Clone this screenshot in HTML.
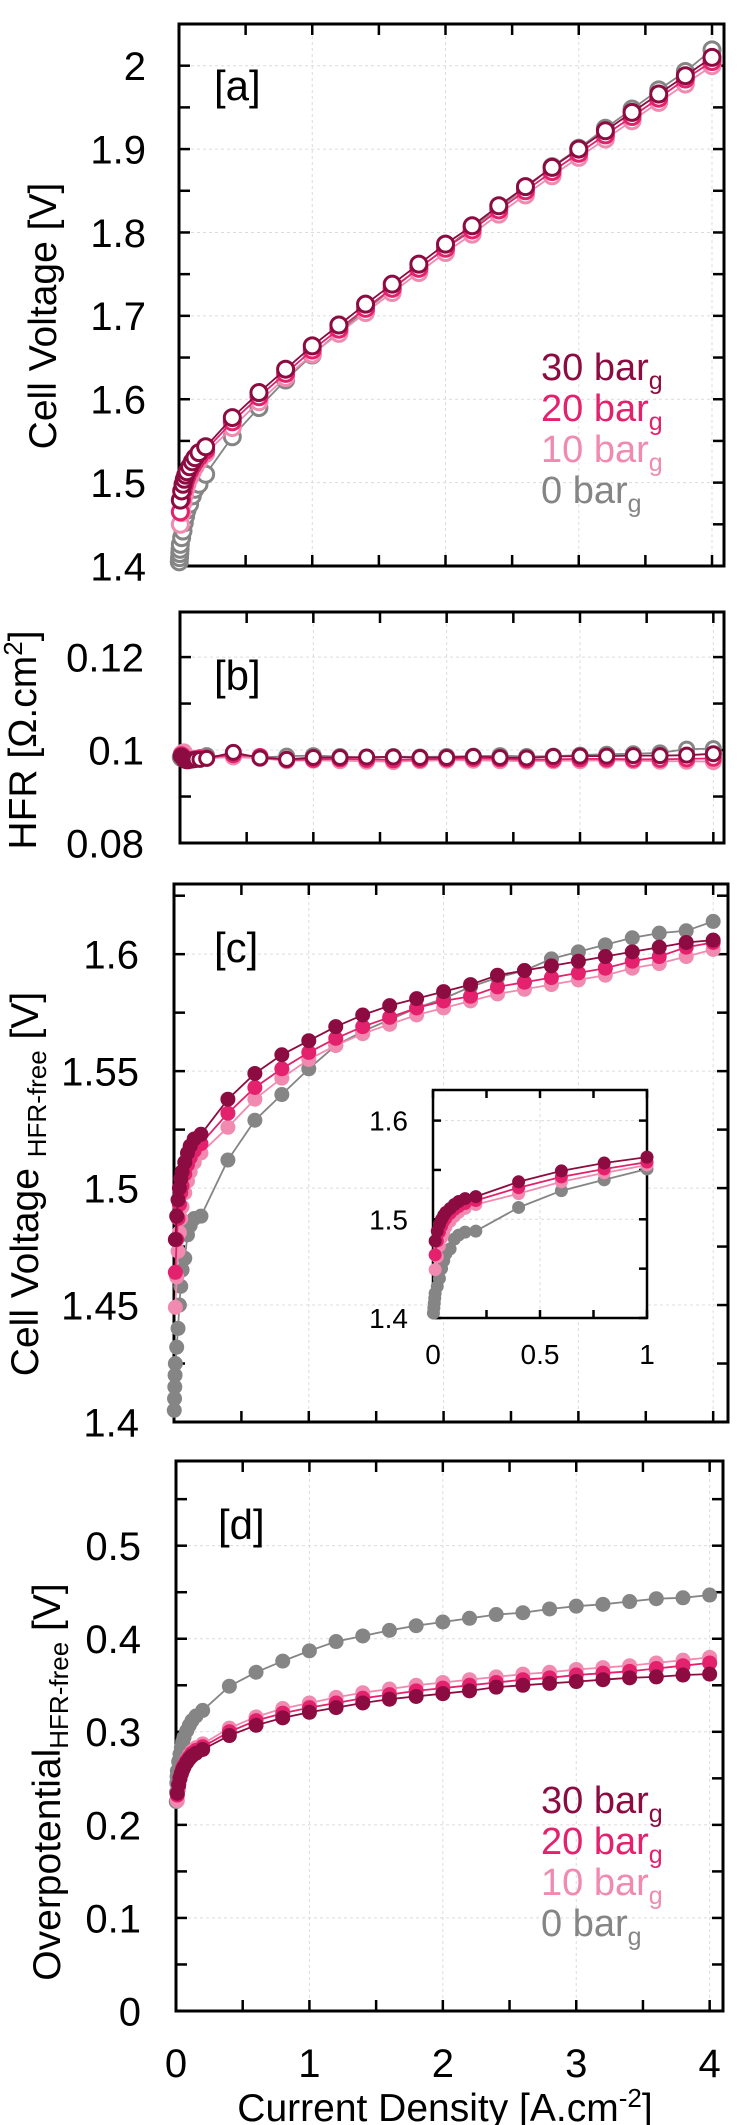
<!DOCTYPE html>
<html><head><meta charset="utf-8">
<style>
html,body{margin:0;padding:0;background:#fff;}
svg{display:block;font-family:"Liberation Sans",Arial,sans-serif;}
</style></head>
<body>
<svg id="fig" width="752" height="2125" viewBox="0 0 752 2125" xmlns="http://www.w3.org/2000/svg">
</svg>
<script>
// ---- data ----
const xs = [0.01,0.02,0.03,0.04,0.05,0.06,0.08,0.1,0.12,0.15,0.2,0.4,0.6,0.8,1.0,1.2,1.4,1.6,1.8,2.0,2.2,2.4,2.6,2.8,3.0,3.2,3.4,3.6,3.8,4.0];
const xs0 = [0.002,0.004,0.006,0.008,0.01,0.02,0.03,0.04,0.05,0.06,0.08,0.1,0.12,0.15,0.2,0.4,0.6,0.8,1.0,1.2,1.4,1.6,1.8,2.0,2.2,2.4,2.6,2.8,3.0,3.2,3.4,3.6,3.8,4.0];
const seriesNames = ["0 bar","10 bar","20 bar","30 bar"];

// [a] cell voltage
const cv30 = [1.479,1.490,1.498,1.504,1.509,1.513,1.519,1.525,1.530,1.536,1.543,1.578,1.608,1.636,1.664,1.689,1.714,1.738,1.762,1.786,1.808,1.832,1.855,1.878,1.900,1.922,1.944,1.966,1.988,2.010];
const cv20 = [1.465,1.480,1.490,1.497,1.503,1.507,1.514,1.520,1.525,1.531,1.539,1.573,1.603,1.631,1.659,1.684,1.709,1.733,1.757,1.781,1.803,1.827,1.850,1.873,1.895,1.917,1.939,1.961,1.984,2.005];
const cv10 = [1.450,1.464,1.476,1.485,1.492,1.498,1.506,1.513,1.519,1.526,1.535,1.566,1.597,1.626,1.654,1.679,1.704,1.728,1.752,1.776,1.798,1.822,1.845,1.868,1.890,1.912,1.934,1.956,1.978,2.000];
const cv0 = [1.405,1.410,1.415,1.420,1.426,1.434,1.442,1.452,1.460,1.467,1.474,1.484,1.492,1.498,1.510,1.555,1.590,1.623,1.653,1.681,1.707,1.732,1.757,1.781,1.806,1.830,1.853,1.879,1.901,1.925,1.948,1.971,1.993,2.019];

// [b] HFR
const hfr30 = [0.0987,0.0985,0.0980,0.0978,0.0977,0.0977,0.0978,0.0979,0.0980,0.0980,0.0982,0.0995,0.0983,0.0980,0.0984,0.0984,0.0985,0.0985,0.0984,0.0984,0.0986,0.0984,0.0983,0.0986,0.0987,0.0987,0.0988,0.0988,0.0989,0.0992];
const hfr20 = [0.0990,0.0988,0.0984,0.0980,0.0978,0.0978,0.0979,0.0980,0.0981,0.0982,0.0983,0.0990,0.0986,0.0979,0.0980,0.0981,0.0980,0.0979,0.0980,0.0981,0.0982,0.0981,0.0979,0.0980,0.0981,0.0981,0.0980,0.0980,0.0981,0.0982];
const hfr10 = [0.0992,0.0995,0.0996,0.0990,0.0986,0.0984,0.0983,0.0982,0.0981,0.0981,0.0982,0.0985,0.0982,0.0977,0.0978,0.0977,0.0976,0.0975,0.0977,0.0978,0.0978,0.0977,0.0976,0.0977,0.0977,0.0978,0.0977,0.0976,0.0976,0.0975];
const hfr0 = [0.0985,0.0984,0.0983,0.0982,0.0982,0.0981,0.0981,0.0980,0.0980,0.0980,0.0980,0.0981,0.0982,0.0984,0.0988,0.0986,0.0984,0.0987,0.0988,0.0986,0.0983,0.0986,0.0985,0.0986,0.0987,0.0988,0.0986,0.0987,0.0989,0.0991,0.0992,0.0994,0.1002,0.1003];

// [c] HFR-free cell voltage
const cf30 = [1.478,1.488,1.495,1.500,1.504,1.507,1.511,1.515,1.518,1.521,1.523,1.538,1.549,1.557,1.563,1.569,1.574,1.578,1.581,1.584,1.587,1.591,1.593,1.595,1.597,1.599,1.601,1.603,1.605,1.606];
const cf20 = [1.464,1.478,1.487,1.493,1.498,1.501,1.506,1.510,1.513,1.516,1.519,1.532,1.543,1.551,1.558,1.564,1.569,1.573,1.577,1.580,1.582,1.586,1.588,1.590,1.592,1.594,1.597,1.599,1.603,1.605];
const cf10 = [1.449,1.462,1.473,1.481,1.487,1.492,1.498,1.503,1.507,1.511,1.515,1.526,1.538,1.547,1.555,1.561,1.566,1.570,1.574,1.577,1.580,1.583,1.585,1.587,1.589,1.591,1.594,1.596,1.599,1.602];
const cf0 = [1.405,1.410,1.415,1.420,1.425,1.432,1.440,1.450,1.458,1.465,1.470,1.480,1.484,1.487,1.488,1.512,1.529,1.540,1.551,1.561,1.567,1.572,1.577,1.581,1.586,1.590,1.593,1.598,1.601,1.604,1.607,1.609,1.610,1.614];

// [d] overpotential
const op30 = [0.234,0.243,0.250,0.255,0.259,0.262,0.267,0.271,0.274,0.277,0.281,0.296,0.307,0.315,0.321,0.326,0.331,0.335,0.338,0.341,0.344,0.348,0.350,0.352,0.354,0.356,0.358,0.359,0.361,0.362];
const op20 = [0.232,0.243,0.251,0.256,0.261,0.264,0.269,0.273,0.277,0.280,0.284,0.300,0.312,0.320,0.326,0.331,0.336,0.340,0.344,0.347,0.350,0.353,0.356,0.358,0.361,0.363,0.365,0.368,0.371,0.374];
const op10 = [0.226,0.239,0.249,0.255,0.260,0.264,0.270,0.275,0.279,0.283,0.287,0.304,0.316,0.325,0.331,0.337,0.342,0.346,0.350,0.353,0.356,0.359,0.362,0.364,0.367,0.369,0.371,0.374,0.377,0.380];
const op0 = [0.225,0.235,0.245,0.252,0.258,0.268,0.276,0.283,0.289,0.294,0.301,0.307,0.312,0.317,0.323,0.349,0.364,0.376,0.387,0.397,0.403,0.409,0.414,0.418,0.422,0.426,0.428,0.432,0.435,0.437,0.440,0.443,0.444,0.447];

const xTickLabels = ["0","1","2","3","4"];
const yTicksA = ["1.4","1.5","1.6","1.7","1.8","1.9","2"];
const yTicksB = ["0.08","0.1","0.12"];
const yTicksC = ["1.4","1.45","1.5","1.55","1.6"];
const yTicksD = ["0","0.1","0.2","0.3","0.4","0.5"];
const inTicksY = ["1.4","1.5","1.6"];
const inTicksX = ["0","0.5","1"];

const COL = {"0 bar":"#858585","10 bar":"#F18AB0","20 bar":"#E3216D","30 bar":"#8C0C41"};

// ---- helpers ----
const NS = "http://www.w3.org/2000/svg";
const svg = document.getElementById("fig");
function mk(tag, attrs, parent){
  const e = document.createElementNS(NS, tag);
  for (const k in attrs) e.setAttribute(k, attrs[k]);
  (parent||svg).appendChild(e);
  return e;
}
function axis(p){
  p.sx = v => p.left + (v - p.xmin)/(p.xmax - p.xmin)*(p.right - p.left);
  p.sy = v => p.bottom - (v - p.ymin)/(p.ymax - p.ymin)*(p.bottom - p.top);
  return p;
}

function drawFrame(p, g){
  p.xGrid.forEach(v=>{
    const l = mk("line",{x1:p.sx(v),x2:p.sx(v),y1:p.top,y2:p.bottom,stroke:"#dcdcdc","stroke-width":1,"stroke-dasharray":"3,3"},g);
    
    
  });
  p.yMajor.forEach(v=>{
    const l = mk("line",{x1:p.left,x2:p.right,y1:p.sy(v),y2:p.sy(v),stroke:"#dcdcdc","stroke-width":1,"stroke-dasharray":"3,3"},g);
    
    
  });
  const tl = p.tickLen||11;
  p.xTicks.forEach(v=>{
    const x = p.sx(v);
    mk("line",{x1:x,x2:x,y1:p.bottom,y2:p.bottom-tl,stroke:"#000","stroke-width":2.5},g);
    mk("line",{x1:x,x2:x,y1:p.top,y2:p.top+tl,stroke:"#000","stroke-width":2.5},g);
  });
  p.yAll.forEach(v=>{
    const y = p.sy(v);
    mk("line",{x1:p.left,x2:p.left+tl,y1:y,y2:y,stroke:"#000","stroke-width":2.5},g);
    mk("line",{x1:p.right,x2:p.right-tl,y1:y,y2:y,stroke:"#000","stroke-width":2.5},g);
  });
  const r = mk("rect",{x:p.left,y:p.top,width:p.right-p.left,height:p.bottom-p.top,fill:"none",stroke:"#000","stroke-width":p.frameW||3},g);
  
  
  p.yLabels.forEach(s=>{
    const t = mk("text",{x:p.labelX,y:p.sy(parseFloat(s))+p.fs*0.36,"text-anchor":"end","font-size":p.fs,fill:"#000"},g);
    t.textContent = s;
    
    
  });
}

function drawSeries(p, g, xv, yv, name, open, r){
  const c = COL[name];
  const sg = mk("g",{},g);
  
  
  let d = "";
  xv.forEach((x,i)=>{
    if (x > p.xmax) return;
    d += (d?"L":"M") + p.sx(x).toFixed(1) + "," + p.sy(yv[i]).toFixed(1);
  });
  const path = mk("path",{d:d,fill:"none",stroke:c,"stroke-width":1.8},sg);
  
  
  xv.forEach((x,i)=>{
    if (x > p.xmax) return;
    const m = mk("circle",{cx:p.sx(x),cy:p.sy(yv[i]),r:r,fill:open?"#fff":c,stroke:c,"stroke-width":open?3:0},sg);
    
    
  });
}

function range(a,b,s){const o=[];for(let v=a;v<=b+1e-9;v+=s)o.push(Math.round(v*10000)/10000);return o;}

function panelLabel(txt,x,y,g){
  const t = mk("text",{x:x,y:y,"font-size":42,fill:"#000"},g);
  t.textContent = txt;
  
  
}

function legend(x,y0,g){
  const lg = mk("g",{},g);
  
  
  const ord = ["30 bar","20 bar","10 bar","0 bar"];
  ord.forEach((n,i)=>{
    const t = mk("text",{x:x,y:y0+i*41,"font-size":38,fill:COL[n]},lg);
    
    
    t.appendChild(document.createTextNode(n));
    const s = mk("tspan",{dy:9,"font-size":25},t);
    s.textContent = "g";
  });
}

const FS = 40;

// ---- panel A ----
const A = axis({left:179,right:724,top:24,bottom:566,xmin:0,xmax:4.09,ymin:1.4,ymax:2.05,fs:FS,labelX:146});
A.xTicks = range(0,4,0.5); A.xGrid = range(1,4,1); A.yMajor = range(1.4,2.0,0.1); A.yAll = range(1.4,2.05,0.05); A.yLabels = yTicksA;
const gA = mk("g",{});  
drawFrame(A,gA);
drawSeries(A,gA,xs0,cv0,"0 bar",true,8);
drawSeries(A,gA,xs,cv10,"10 bar",true,8);
drawSeries(A,gA,xs,cv20,"20 bar",true,8);
drawSeries(A,gA,xs,cv30,"30 bar",true,8);
panelLabel("[a]",214,100,gA);
legend(541,380,gA);
{
  const t = mk("text",{x:0,y:0,"font-size":39,fill:"#000","text-anchor":"middle",transform:"translate(56,316) rotate(-90)"},gA);
  
  
  t.textContent = "Cell Voltage [V]";
}

// ---- panel B ----
const B = axis({left:180,right:724,top:612,bottom:843,xmin:0,xmax:4.08,ymin:0.08,ymax:0.1297,fs:FS,labelX:144});
B.xTicks = range(0,4,0.5); B.xGrid = range(1,4,1); B.yMajor = range(0.08,0.12,0.02); B.yAll = range(0.08,0.12,0.01); B.yLabels = yTicksB;
const gB = mk("g",{});  
drawFrame(B,gB);
drawSeries(B,gB,xs0,hfr0,"0 bar",true,7);
drawSeries(B,gB,xs,hfr10,"10 bar",true,7);
drawSeries(B,gB,xs,hfr20,"20 bar",true,7);
drawSeries(B,gB,xs,hfr30,"30 bar",true,7);
panelLabel("[b]",214,690,gB);
{
  const t = mk("text",{x:0,y:0,"font-size":39,fill:"#000","text-anchor":"middle",transform:"translate(36,740) rotate(-90)"},gB);
  
  
  t.appendChild(document.createTextNode("HFR [Ω.cm"));
  const s = mk("tspan",{dy:-14,"font-size":26},t); s.textContent="2";
  const s2 = mk("tspan",{dy:14},t); s2.textContent="]";
}

// ---- panel C ----
const C = axis({left:174,right:728,top:884,bottom:1422,xmin:0,xmax:4.11,ymin:1.4,ymax:1.63,fs:FS,labelX:139});
C.xTicks = range(0,4,0.5); C.xGrid = range(1,4,1); C.yMajor = range(1.4,1.6,0.05); C.yAll = range(1.4,1.625,0.025); C.yLabels = yTicksC;
const gC = mk("g",{});  
drawFrame(C,gC);
drawSeries(C,gC,xs0,cf0,"0 bar",false,7.5);
drawSeries(C,gC,xs,cf10,"10 bar",false,7.5);
drawSeries(C,gC,xs,cf20,"20 bar",false,7.5);
drawSeries(C,gC,xs,cf30,"30 bar",false,7.5);
panelLabel("[c]",214,962,gC);
{
  const t = mk("text",{x:0,y:0,"font-size":39,fill:"#000","text-anchor":"middle",transform:"translate(38,1184) rotate(-90)"},gC);
  
  
  t.appendChild(document.createTextNode("Cell Voltage "));
  const s = mk("tspan",{dy:8,"font-size":26},t); s.textContent="HFR-free";
  const s2 = mk("tspan",{dy:-8},t); s2.textContent=" [V]";
}
// inset
const I = axis({left:433,right:647,top:1090,bottom:1318,xmin:0,xmax:1,ymin:1.4,ymax:1.631,fs:28,labelX:408,tickLen:8,frameW:2.5});
I.xTicks = range(0,1,0.25); I.xGrid = [0.5]; I.yMajor = range(1.4,1.6,0.1); I.yAll = range(1.4,1.6,0.05); I.yLabels = inTicksY;
const gI = mk("g",{});  
mk("rect",{x:I.left,y:I.top,width:I.right-I.left,height:I.bottom-I.top,fill:"#fff"},gI);
drawFrame(I,gI);
const cut=(xv,yv)=>{const r=[[],[]];xv.forEach((x,i)=>{if(x<=1.0){r[0].push(x);r[1].push(yv[i]);}});return r;};
[[xs0,cf0,"0 bar"],[xs,cf10,"10 bar"],[xs,cf20,"20 bar"],[xs,cf30,"30 bar"]].forEach(s=>{
  const c = cut(s[0],s[1]);
  drawSeries(I,gI,c[0],c[1],s[2],false,6.5);
});
inTicksX.forEach(s=>{
  const t = mk("text",{x:I.sx(parseFloat(s)),y:1364,"text-anchor":"middle","font-size":28,fill:"#000"},gI);
  t.textContent = s;
  
  
});

// ---- panel D ----
const D = axis({left:176,right:723,top:1461,bottom:2011,xmin:0,xmax:4.1,ymin:0,ymax:0.591,fs:FS,labelX:141});
D.xTicks = range(0,4,0.5); D.xGrid = range(1,4,1); D.yMajor = range(0,0.5,0.1); D.yAll = range(0,0.55,0.05); D.yLabels = yTicksD;
const gD = mk("g",{});  
drawFrame(D,gD);
drawSeries(D,gD,xs0,op0,"0 bar",false,7.5);
drawSeries(D,gD,xs,op10,"10 bar",false,7.5);
drawSeries(D,gD,xs,op20,"20 bar",false,7.5);
drawSeries(D,gD,xs,op30,"30 bar",false,7.5);
panelLabel("[d]",218,1539,gD);
legend(541,1813,gD);
{
  const t = mk("text",{x:0,y:0,"font-size":39,fill:"#000","text-anchor":"middle",transform:"translate(60,1782) rotate(-90)"},gD);
  
  
  t.appendChild(document.createTextNode("Overpotential"));
  const s = mk("tspan",{dy:8,"font-size":26},t); s.textContent="HFR-free";
  const s2 = mk("tspan",{dy:-8},t); s2.textContent=" [V]";
}
xTickLabels.forEach(s=>{
  const t = mk("text",{x:D.sx(parseFloat(s)),y:2077,"text-anchor":"middle","font-size":FS,fill:"#000"},gD);
  t.textContent = s;
  
  
});
{
  const t = mk("text",{x:445,y:2121,"text-anchor":"middle","font-size":39,fill:"#000"},gD);
  
  
  t.appendChild(document.createTextNode("Current Density [A.cm"));
  const s = mk("tspan",{dy:-14,"font-size":26},t); s.textContent="-2";
  const s2 = mk("tspan",{dy:14},t); s2.textContent="]";
}
</script>
</body></html>
